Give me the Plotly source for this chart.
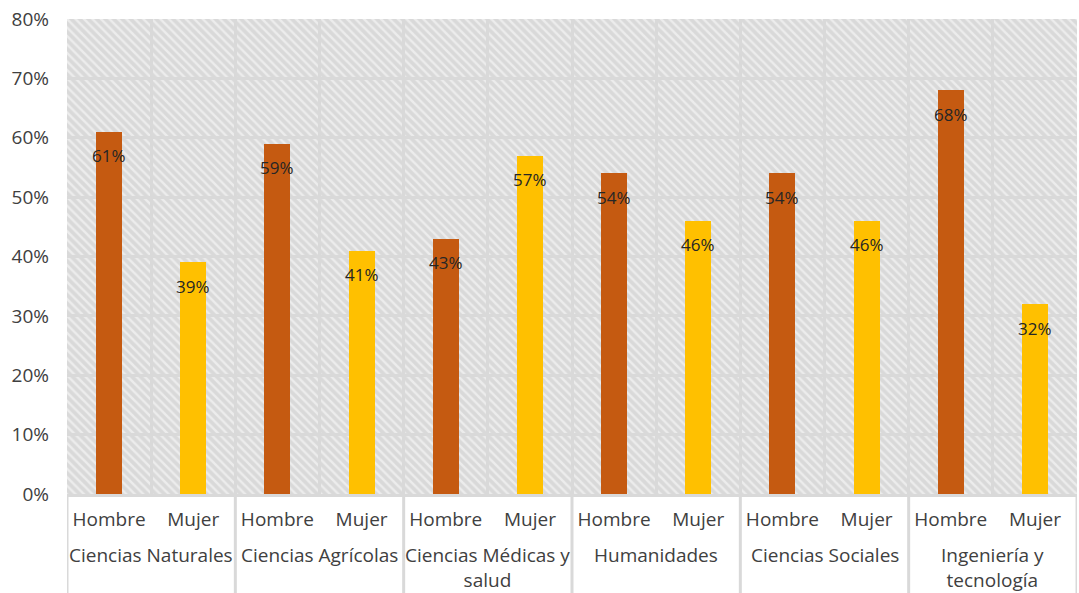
import plotly.graph_objects as go

categories = ["Ciencias Naturales", "Ciencias Agrícolas", "Ciencias Médicas y<br>salud",
              "Humanidades", "Ciencias Sociales", "Ingeniería y<br>tecnología"]
genders = ["Hombre", "Mujer"]
hombre = [0.61, 0.59, 0.43, 0.54, 0.54, 0.68]
mujer = [0.39, 0.41, 0.57, 0.46, 0.46, 0.32]
y_ticks = [0, 0.1, 0.2, 0.3, 0.4, 0.5, 0.6, 0.7, 0.8]

C_H = "#C55A11"
C_M = "#FFC000"
GRID = "#D9D9D9"
FONT = "Open Sans"
TXT = "#404040"

labels, vals, cols = [], [], []
for h, m in zip(hombre, mujer):
    labels += genders
    vals += [h, m]
    cols += [C_H, C_M]
idx = list(range(len(vals)))
n = len(vals)

fig = go.Figure()
# background hatch (subplot 1, drawn beneath grid of subplot 2)
fig.add_trace(go.Bar(x=[(n - 1) / 2], y=[0.8], width=[n],
                     marker=dict(color=GRID, line=dict(width=0),
                                 pattern=dict(shape="\\", bgcolor=GRID, fgcolor="#FFFFFF",
                                              size=6, solidity=0.4)),
                     xaxis="x", yaxis="y", hoverinfo="skip", showlegend=False))
fig.add_trace(go.Bar(x=idx, y=vals, width=0.31,
                     marker=dict(color=cols, line=dict(width=0)),
                     xaxis="x2", yaxis="y2", showlegend=False))

for i, v in zip(idx, vals):
    fig.add_annotation(x=i, y=v, xref="x2", yref="y2", text=f"{round(v*100)}%",
                       showarrow=False, yshift=-24, yanchor="middle",
                       font=dict(family=FONT, size=17, color="#262626"))

for k, c in enumerate(categories):
    fig.add_annotation(x=2 * k + 0.5, y=0, xref="x2", yref="paper", text=c,
                       showarrow=False, yanchor="top", yshift=-46,
                       font=dict(family=FONT, size=19, color=TXT))
for k in range(len(categories) + 1):
    fig.add_shape(type="line", xref="x2", yref="paper", x0=2 * k - 0.5, x1=2 * k - 0.5,
                  y0=0, y1=-0.25, line=dict(color=GRID, width=3), layer="below")

fig.update_layout(
    width=1079, height=593,
    margin=dict(l=67, r=2, t=19, b=99),
    paper_bgcolor="white", plot_bgcolor="rgba(0,0,0,0)",
    bargap=0,
    font=dict(family=FONT, size=19, color=TXT),
    xaxis=dict(domain=[0, 1], range=[-0.5, n - 0.5], visible=False, fixedrange=True),
    yaxis=dict(domain=[0, 1], range=[0, 0.8], visible=False),
    xaxis2=dict(domain=[0, 1], anchor="y2", range=[-0.5, n - 0.5],
                tickvals=idx, ticktext=labels, showgrid=False,
                minor=dict(tickvals=[i - 0.5 for i in idx] + [n - 0.5], showgrid=True,
                           gridcolor=GRID, gridwidth=3, ticks=""),
                showline=True, linecolor=GRID, linewidth=3, zeroline=False,
                ticks="", ticklabelstandoff=6, tickfont=dict(family=FONT, size=19, color=TXT)),
    yaxis2=dict(domain=[0, 1], anchor="x2", range=[0, 0.8], tickvals=y_ticks,
                tickformat=".0%", showgrid=True, gridcolor=GRID, gridwidth=3,
                zeroline=False, ticks="", ticklabelstandoff=17,
                tickfont=dict(family=FONT, size=19, color=TXT)),
)

fig.write_html("out.html")
